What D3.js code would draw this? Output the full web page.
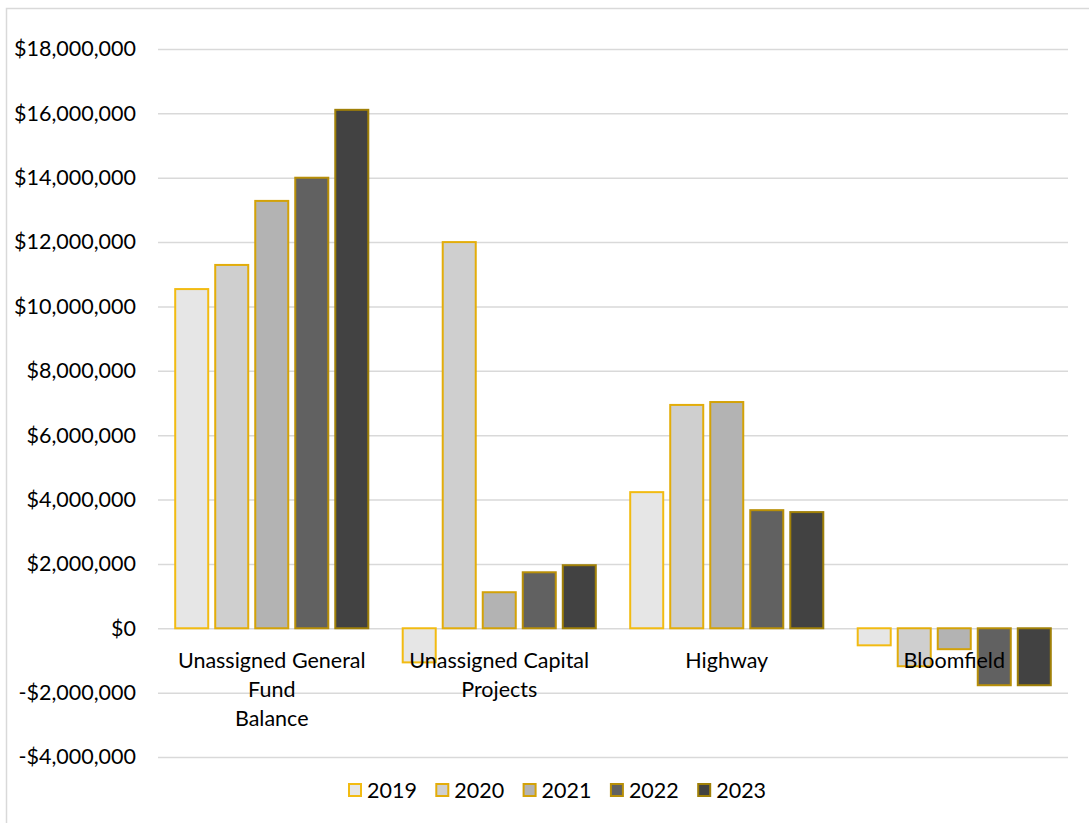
<!DOCTYPE html>
<html lang="en">
<head>
<meta charset="utf-8">
<title>Fund balances</title>
<style>
  body { margin: 0; background: #fff; }
  text { font-family: Lato, "Open Sans", sans-serif; fill: #000; }
</style>
</head>
<body>
<svg width="1089" height="823"></svg>
<script src="https://d3js.org/d3.v7.min.js"></script>
<script>
  // data
  var categories = [["Unassigned General", "Fund", "Balance"], ["Unassigned Capital", "Projects"], ["Highway"], ["Bloomfield"]];
  var years = ["2019", "2020", "2021", "2022", "2023"];
  var v2019 = [10540000, -1060000, 4230000, -530000];
  var v2020 = [11290000, 12000000, 6940000, -1180000];
  var v2021 = [13280000, 1120000, 7030000, -650000];
  var v2022 = [14000000, 1740000, 3670000, -1770000];
  var v2023 = [16110000, 1960000, 3610000, -1770000];
  var yTicks = [-4000000, -2000000, 0, 2000000, 4000000, 6000000, 8000000, 10000000, 12000000, 14000000, 16000000, 18000000];

  var series = [v2019, v2020, v2021, v2022, v2023];
  var fills = ["#e6e6e6", "#cfcfcf", "#b3b3b3", "#616161", "#424242"];
  var strokes = ["#f2bb12", "#e3ad0a", "#d3a208", "#b88f08", "#a08008"];

  var svg = d3.select("svg");
  var fs = "21.5px";

  // chart frame
  svg.append("rect")
    .attr("x", 6.5).attr("y", 8.5)
    .attr("width", 1100).attr("height", 830)
    .attr("fill", "none").attr("stroke", "#d9d9d9").attr("stroke-width", 1.5);

  var left = 158, right = 1068;
  var y = d3.scaleLinear().domain([-4000000, 18000000]).range([757, 49]);

  var x0 = d3.scaleBand().domain(d3.range(categories.length)).range([left, right]);
  var x1 = d3.scaleBand().domain(years).range([0, x0.bandwidth()])
    .paddingInner(0.175).paddingOuter(0.43);

  var fmt = function(d) {
    var s = "$" + d3.format(",")(Math.abs(d));
    return d < 0 ? "-" + s : s;
  };

  // gridlines + labels
  var yAxis = svg.append("g")
    .attr("transform", "translate(" + left + ",0)")
    .call(d3.axisLeft(y).tickValues(yTicks).tickFormat(fmt)
      .tickSize(-(right - left)).tickPadding(22));
  yAxis.select(".domain").remove();
  yAxis.selectAll("line").attr("stroke", "#d9d9d9").attr("stroke-width", 1.5);
  yAxis.selectAll("text").style("font-size", fs).attr("fill", "#000");

  // bars
  var groups = svg.selectAll(".grp")
    .data(categories.map(function(c, i) { return i; }))
    .enter().append("g")
    .attr("class", "grp")
    .attr("transform", function(i) { return "translate(" + x0(i) + ",0)"; });

  groups.selectAll("rect")
    .data(function(i) { return years.map(function(yr, k) { return {year: yr, k: k, v: series[k][i]}; }); })
    .enter().append("rect")
    .attr("x", function(d) { return x1(d.year); })
    .attr("y", function(d) { return y(Math.max(0, d.v)); })
    .attr("width", x1.bandwidth())
    .attr("height", function(d) { return Math.abs(y(d.v) - y(0)); })
    .attr("fill", function(d) { return fills[d.k]; })
    .attr("stroke", function(d) { return strokes[d.k]; })
    .attr("stroke-width", 2);

  // category labels
  groups.append("text")
    .attr("text-anchor", "middle")
    .style("font-size", fs)
    .selectAll("tspan")
    .data(function(i) { return categories[i]; })
    .enter().append("tspan")
    .attr("x", x0.bandwidth() / 2)
    .attr("y", function(d, j) { return 668 + j * 29; })
    .text(function(d) { return d; });

  // legend
  var legend = svg.append("g").attr("transform", "translate(349,790)");
  var li = legend.selectAll("g").data(years).enter().append("g")
    .attr("transform", function(d, k) { return "translate(" + (k * 87.3) + ",0)"; });
  li.append("rect")
    .attr("x", 0).attr("y", -6).attr("width", 12).attr("height", 12)
    .attr("fill", function(d, k) { return fills[k]; })
    .attr("stroke", function(d, k) { return strokes[k]; })
    .attr("stroke-width", 2);
  li.append("text")
    .attr("x", 18).attr("y", 8)
    .style("font-size", fs)
    .text(function(d) { return d; });
</script>
</body>
</html>
